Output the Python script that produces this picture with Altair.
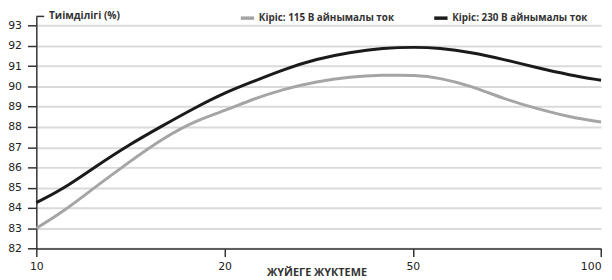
import altair as alt
import pandas as pd

# ---- data ----
x_ticks = [10, 20, 50, 100]
y_ticks = list(range(82, 94))
series_names = ["Кіріс: 115 В айнымалы ток", "Кіріс: 230 В айнымалы ток"]
series_colors = ["#a5a5a5", "#1a1a1a"]

load_pts = [10, 11.4, 13.15, 14.9, 16.65, 18.4, 20.5, 24.15, 29.4, 34.7,
            39.9, 45.2, 50.8, 56.85, 65.5, 74.2, 82.9, 91.6, 100]
eff_115 = [83.0, 83.8, 85.05, 86.25, 87.4, 88.3, 88.85, 89.33, 89.87, 90.24,
           90.47, 90.56, 90.55, 90.43, 90.03, 89.38, 88.9, 88.49, 88.24]
eff_230 = [84.27, 84.92, 86.05, 87.11, 88.03, 88.94, 89.75, 90.19, 90.84, 91.36,
           91.68, 91.89, 91.94, 91.89, 91.68, 91.33, 90.92, 90.56, 90.3]

rows = []
for name, vals in zip(series_names, [eff_115, eff_230]):
    for x, v in zip(load_pts, vals):
        rows.append({"load": x, "eff": v, "series": name})
df = pd.DataFrame(rows)

W = 572.3
H = 235.3
Y_TOP = 93.45

FONT_LBL = "DejaVu Sans"
FONT_BOLD = "Open Sans"
AX = "#333333"

x_scale = alt.Scale(domain=x_ticks, range=[0, W / 3, 2 * W / 3, W], nice=False, zero=False)
y_scale = alt.Scale(domain=[82, Y_TOP], nice=False, zero=False)

x_axis = alt.Axis(
    values=x_ticks, grid=False, title="ЖҮЙЕГЕ ЖҮКТЕМЕ",
    titleX=284, titleY=24.5, titleAlign="center", titleBaseline="middle",
    titleFont=FONT_BOLD, titleFontSize=11, titleFontWeight="bold", titleColor=AX,
    labelFont=FONT_LBL, labelFontSize=11, labelColor="#222222", labelPadding=4,
    labelFlush=False,
    labelAlign={"condition": {"test": "datum.value == 100", "value": "right"}, "value": "center"},
    tickSize=8, tickWidth=1.5, tickColor=AX, domainColor=AX, domainWidth=1.5,
)
y_axis = alt.Axis(
    values=y_ticks, grid=True, gridColor="#dadada", gridWidth=2,
    labelOverlap=False,
    title="Тиімділігі (%)", titleAngle=0, titleX=12.3, titleY=-0.5,
    titleAlign="left", titleBaseline="middle",
    titleFont=FONT_BOLD, titleFontSize=10.3, titleFontWeight="bold", titleColor=AX,
    labelFont=FONT_LBL, labelFontSize=11, labelColor="#222222", labelPadding=6,
    tickSize=9, tickWidth=1.5, tickColor=AX, domainColor=AX, domainWidth=1.5,
)

lines = alt.Chart(df).mark_line(strokeWidth=3, interpolate="basis", strokeCap="butt").encode(
    x=alt.X("load:Q", scale=x_scale, axis=x_axis),
    y=alt.Y("eff:Q", scale=y_scale, axis=y_axis),
    color=alt.Color(
        "series:N",
        scale=alt.Scale(domain=series_names, range=series_colors),
        legend=alt.Legend(
            orient="none", legendX=205.5, legendY=-7, direction="horizontal", title=None,
            symbolType="stroke", symbolStrokeWidth=3.5, symbolSize=182,
            labelFont=FONT_BOLD, labelFontSize=10.0, labelFontWeight="bold", labelColor=AX,
            labelOffset=3, columnPadding=32, padding=0,
        ),
    ),
    detail="series:N",
)

top_tick = alt.Chart(pd.DataFrame({"y": [Y_TOP]})).mark_rule(color=AX, strokeWidth=1.5).encode(
    y=alt.Y("y:Q", scale=y_scale, axis=y_axis),
    x=alt.value(0), x2=alt.value(8),
)

chart = alt.layer(lines, top_tick).properties(
    width=W, height=H,
    autosize=alt.AutoSizeParams(type="none"),
    padding={"left": 28.7, "top": 6.7, "right": 3, "bottom": 30},
).configure_view(stroke=None)

chart.save("out.html", embed_options={"renderer": "svg", "actions": False})
